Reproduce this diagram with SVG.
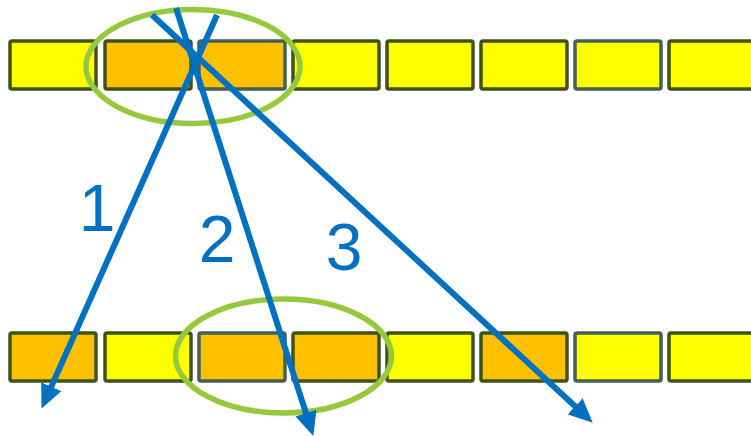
<svg xmlns="http://www.w3.org/2000/svg" width="751" height="436" viewBox="0 0 751 436">
<defs>
<style>
.b{stroke:#3F5318;stroke-width:3.5}
.g{stroke:#435F5A}
.y{fill:#FFFF00}
.o{fill:#FFC000}
.ell{fill:none;stroke:#95C83D;stroke-width:5.5}
.ln{fill:none;stroke:#0070C0;stroke-width:6}
.lbl{font-family:"Liberation Sans",Arial,sans-serif;font-size:66px;fill:#0070C0;text-anchor:middle}
</style>
<marker id="ah" markerUnits="userSpaceOnUse" markerWidth="24" markerHeight="22" viewBox="0 0 24 22" refX="8" refY="11" orient="auto">
<path d="M0,0 L24,11 L0,22 z" fill="#0070C0"/>
</marker>
</defs>
<rect width="751" height="436" fill="#FFFFFF"/>
<g id="top-row">
<rect id="t1" class="b y" x="10" y="41" width="86" height="48" rx="2"/>
<rect id="t2" class="b o" x="105" y="41" width="86" height="48" rx="2"/>
<rect id="t3" class="b g o" x="199" y="41" width="86" height="48" rx="2"/>
<rect id="t4" class="b y" x="293" y="41" width="86" height="48" rx="2"/>
<rect id="t5" class="b y" x="387" y="41" width="86" height="48" rx="2"/>
<rect id="t6" class="b y" x="481" y="41" width="86" height="48" rx="2"/>
<rect id="t7" class="b g y" x="575" y="41" width="86" height="48" rx="2"/>
<rect id="t8" class="b y" x="669" y="41" width="86" height="48" rx="2"/>
</g>
<g id="bottom-row">
<rect id="b1" class="b o" x="10" y="333" width="86" height="48" rx="2"/>
<rect id="b2" class="b y" x="105" y="333" width="86" height="48" rx="2"/>
<rect id="b3" class="b g o" x="199" y="333" width="86" height="48" rx="2"/>
<rect id="b4" class="b o" x="293" y="333" width="86" height="48" rx="2"/>
<rect id="b5" class="b y" x="387" y="333" width="86" height="48" rx="2"/>
<rect id="b6" class="b o" x="481" y="333" width="86" height="48" rx="2"/>
<rect id="b7" class="b g y" x="575" y="333" width="86" height="48" rx="2"/>
<rect id="b8" class="b y" x="669" y="333" width="86" height="48" rx="2"/>
</g>
<g id="highlights">
<ellipse id="e-top" class="ell" cx="193" cy="66.5" rx="107" ry="57"/>
<ellipse id="e-bottom" class="ell" cx="283.5" cy="356" rx="108" ry="57"/>
</g>
<g id="connectors">
<path id="c1" class="ln" d="M217,15 L48,394" marker-end="url(#ah)"/>
<path id="c2" class="ln" d="M176,8 L308.4,420.7" marker-end="url(#ah)"/>
<path id="c3" class="ln" d="M152,15 L581,411.8" marker-end="url(#ah)"/>
</g>
<g id="labels">
<text class="lbl" x="97" y="231">1</text>
<text class="lbl" x="217" y="262">2</text>
<text class="lbl" x="344" y="270">3</text>
</g>
</svg>
